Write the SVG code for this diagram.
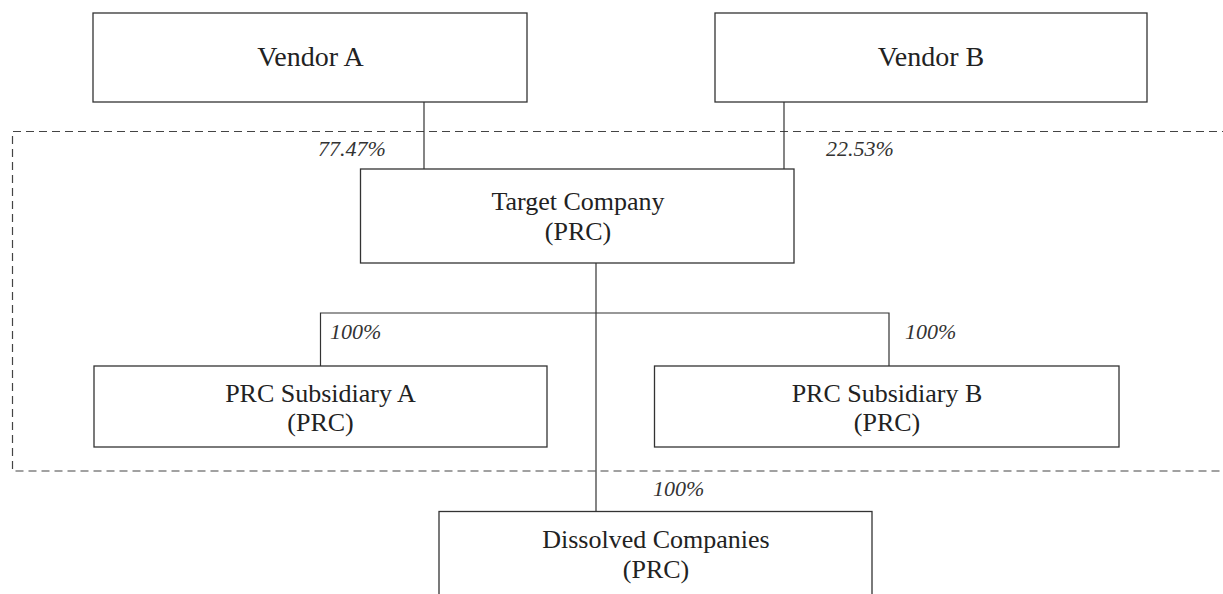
<svg xmlns="http://www.w3.org/2000/svg" width="1223" height="594" viewBox="0 0 1223 594">
<style>
.box{fill:#fff;stroke:#333;stroke-width:1.3}
.t{font-family:"Liberation Serif","Times New Roman",serif;font-size:26px;fill:#222;text-anchor:middle}
.v{font-size:28px}
.p{font-family:"Liberation Serif","Times New Roman",serif;font-size:22px;font-style:italic;fill:#333}
.c{stroke:#333;stroke-width:1.2;fill:none}
.dash{stroke:#444;stroke-width:1.2;fill:none;stroke-dasharray:8,5}
</style>
<rect width="1223" height="594" fill="#fff"/>
<path class="dash" d="M1230,131.5 H12.5 V471 H1230"/>
<g id="connectors">
<line class="c" x1="424" y1="102" x2="424" y2="169"/>
<line class="c" x1="784" y1="102" x2="784" y2="169"/>
<line class="c" x1="596" y1="263" x2="596" y2="511"/>
<polyline class="c" points="320.5,366 320.5,313 889,313 889,366"/>
<text class="p" x="318" y="156">77.47%</text>
<text class="p" x="826" y="156">22.53%</text>
<text class="p" x="330" y="339">100%</text>
<text class="p" x="905" y="339">100%</text>
<text class="p" x="653" y="496">100%</text>
</g>
<g id="vendorA">
<rect class="box" x="93" y="13" width="434" height="89"/>
<text class="t v" x="310.5" y="66">Vendor A</text>
</g>
<g id="vendorB">
<rect class="box" x="715" y="13" width="432" height="89"/>
<text class="t v" x="931" y="66">Vendor B</text>
</g>
<g id="target">
<rect class="box" x="360.5" y="169" width="433.5" height="94"/>
<text class="t" x="578" y="210">Target Company</text>
<text class="t" x="578" y="240">(PRC)</text>
</g>
<g id="subA">
<rect class="box" x="94" y="366" width="453" height="81"/>
<text class="t" x="320.5" y="402">PRC Subsidiary A</text>
<text class="t" x="320.5" y="431">(PRC)</text>
</g>
<g id="subB">
<rect class="box" x="654.5" y="366" width="464.5" height="81"/>
<text class="t" x="887" y="402">PRC Subsidiary B</text>
<text class="t" x="887" y="431">(PRC)</text>
</g>
<g id="dissolved">
<rect class="box" x="439" y="511.5" width="433" height="100"/>
<text class="t" x="656" y="548">Dissolved Companies</text>
<text class="t" x="656" y="578">(PRC)</text>
</g>
</svg>
